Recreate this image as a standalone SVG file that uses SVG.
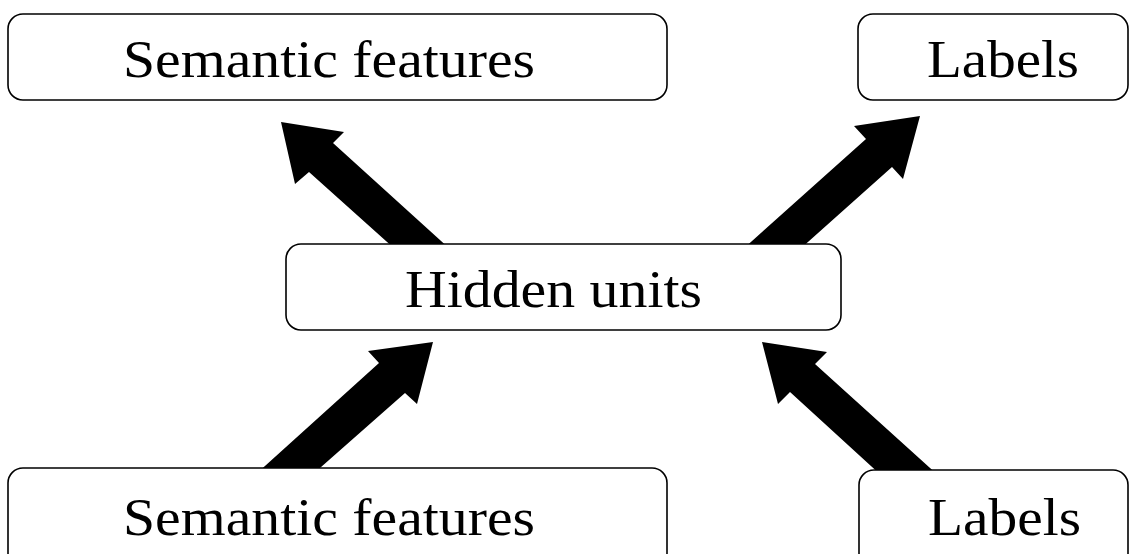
<svg xmlns="http://www.w3.org/2000/svg" width="1130" height="554" viewBox="0 0 1130 554">
<style>
.box{fill:#fff;stroke:#000;stroke-width:1.6}
.lbl{font-family:"Liberation Serif","Times New Roman",serif;font-size:53px;fill:#000}
.arr{fill:#000;stroke:none}
</style>
<rect width="1130" height="554" fill="#fff"/>
<g id="connectors">
<polygon class="arr" points="281,122 344,132 333,143 451,250 396,250 309,172 295,184"/>
<polygon class="arr" points="920,116 854,126 866,139 742,250 799,250 892,167 903,179"/>
<polygon class="arr" points="433,342 368,351 379,363 255,475 312,475 405,393 417,404"/>
<polygon class="arr" points="762,342 827,352 815,364 940,477 883,477 790,392 778,404"/>
</g>
<g id="semantic-top">
<rect class="box" x="8" y="14" width="659" height="86" rx="15"/>
<text class="lbl" x="123" y="77" textLength="412" lengthAdjust="spacingAndGlyphs">Semantic features</text>
</g>
<g id="labels-top">
<rect class="box" x="858" y="14" width="270" height="86" rx="15"/>
<text class="lbl" x="927" y="77" textLength="152" lengthAdjust="spacingAndGlyphs">Labels</text>
</g>
<g id="hidden">
<rect class="box" x="286" y="244" width="555" height="86" rx="15"/>
<text class="lbl" x="405" y="307" textLength="297" lengthAdjust="spacingAndGlyphs">Hidden units</text>
</g>
<g id="semantic-bottom">
<rect class="box" x="8" y="468" width="659" height="100" rx="15"/>
<text class="lbl" x="123" y="535" textLength="412" lengthAdjust="spacingAndGlyphs">Semantic features</text>
</g>
<g id="labels-bottom">
<rect class="box" x="859" y="470" width="269" height="100" rx="15"/>
<text class="lbl" x="928" y="535" textLength="153" lengthAdjust="spacingAndGlyphs">Labels</text>
</g>
</svg>
